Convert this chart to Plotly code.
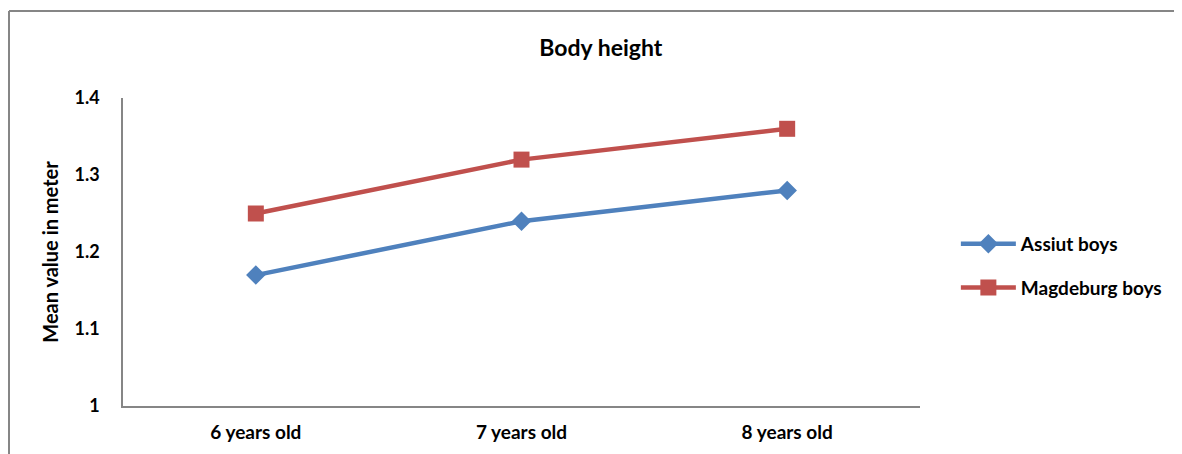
import plotly.graph_objs as go

# chart data
categories = ["6 years old", "7 years old", "8 years old"]
assiut_boys = [1.17, 1.24, 1.28]
magdeburg_boys = [1.25, 1.32, 1.36]
y_ticks = [1, 1.1, 1.2, 1.3, 1.4]
y_tick_labels = ["1", "1.1", "1.2", "1.3", "1.4"]

FONT = "Lato"
AXIS_GREY = "#868686"

fig = go.Figure()
fig.add_trace(go.Scatter(
    x=categories, y=assiut_boys, mode="lines+markers", name="<b>Assiut boys</b>",
    legendgroup="a",
    line=dict(color="#4F81BD", width=4.5),
    marker=dict(symbol="diamond", size=15, color="#4F81BD"),
))
fig.add_trace(go.Scatter(
    x=categories, y=magdeburg_boys, mode="lines+markers", name="<b>Magdeburg boys</b>",
    legendgroup="m",
    line=dict(color="#C0504D", width=4.5),
    marker=dict(symbol="square", size=16, color="#C0504D"),
))

# page has an 8px body margin, so the figure is shrunk/shifted to compensate
fig.update_layout(
    width=1174, height=446,
    margin=dict(l=115, r=262, t=90, b=48),
    paper_bgcolor="white", plot_bgcolor="white",
    font=dict(family=FONT, size=18, color="black"),
    title=dict(text="<b>Body height</b>", xref="container", x=0.505,
               xanchor="center", yref="container", y=0.91, yanchor="middle",
               font=dict(family=FONT, size=23, color="black")),
    xaxis=dict(
        range=[-0.5, 2.5], showgrid=False, zeroline=False,
        showline=True, linecolor=AXIS_GREY, linewidth=1.5,
        ticks="", tickfont=dict(family=FONT, size=19, color="black"),
        tickvals=list(range(len(categories))),
        ticktext=[f"<b>{c}</b>" for c in categories],
        ticklabelstandoff=8,
        type="category",
    ),
    yaxis=dict(
        range=[1, 1.4], showgrid=False, zeroline=False,
        showline=True, linecolor=AXIS_GREY, linewidth=1.5,
        ticks="", tickvals=y_ticks,
        ticktext=[f"<b>{t}</b>" for t in y_tick_labels],
        tickfont=dict(family=FONT, size=18, color="black"),
        ticklabelstandoff=18,
        title=dict(text="<b>Mean value in meter</b>", standoff=10,
                   font=dict(family=FONT, size=20, color="black")),
    ),
    legend=dict(
        x=1.045, y=0.455, xanchor="left", yanchor="middle",
        font=dict(family=FONT, size=19, color="black"),
        traceorder="grouped", tracegroupgap=16,
        itemwidth=55, bgcolor="rgba(0,0,0,0)",
    ),
)

# outer chart frame (cropped on right and bottom like the source)
fig.add_shape(type="line", xref="paper", yref="paper",
              x0=-114/797, x1=1.5, y0=1 + 87/308, y1=1 + 87/308,
              line=dict(color=AXIS_GREY, width=2))
fig.add_shape(type="line", xref="paper", yref="paper",
              x0=-114/797, x1=-114/797, y0=1 + 87/308, y1=-0.5,
              line=dict(color=AXIS_GREY, width=2))

fig.write_html("out.html")
